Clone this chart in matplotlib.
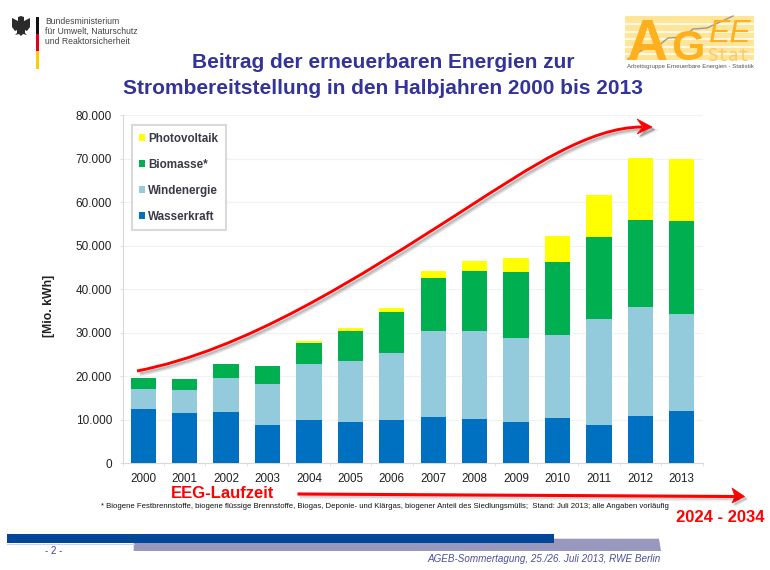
import numpy as np
import matplotlib
matplotlib.use("Agg")
import matplotlib.pyplot as plt
from matplotlib.patches import Polygon, PathPatch, Rectangle
from matplotlib.path import Path

plt.rcParams["font.family"] = ["Liberation Sans", "DejaVu Sans"]

# Values, Mio. kWh
years = [2000, 2001, 2002, 2003, 2004, 2005, 2006, 2007, 2008, 2009, 2010, 2011, 2012, 2013]
wasserkraft = [12400, 11550, 11800, 8700, 9900, 9600, 9950, 10550, 10200, 9500, 10400, 8800, 10900, 11900]
windenergie = [4700, 5250, 7860, 9400, 12800, 13800, 15350, 19900, 20300, 19300, 19000, 24400, 24900, 22500]
biomasse = [2400, 2600, 3040, 4200, 5000, 7000, 9350, 12050, 13700, 15100, 16800, 18800, 20000, 21200]
photovoltaik = [0, 0, 0, 100, 300, 700, 1050, 1560, 2200, 3300, 6000, 9700, 14300, 14200]
y_ticks = [0, 10000, 20000, 30000, 40000, 50000, 60000, 70000, 80000]

W, H = 770, 570
NAVY = "#333399"
RED = "#FF0000"

fig = plt.figure(figsize=(W / 100, H / 100), dpi=100, facecolor="white")
ax = fig.add_axes([122.5 / W, (H - 463.3) / H, 580 / W, 348.3 / H])

# Stacked bars
x = np.arange(len(years))
series = [
    ("Wasserkraft", wasserkraft, "#0070C0"),
    ("Windenergie", windenergie, "#93CBDD"),
    ("Biomasse*", biomasse, "#00B050"),
    ("Photovoltaik", photovoltaik, "#FFFF00"),
]
bottom = np.zeros(len(years))
for name, vals, col in series:
    ax.bar(x, vals, width=0.61, bottom=bottom, color=col, label=name, zorder=3)
    bottom += np.array(vals)

ax.set_xlim(-0.5, 13.5)
ax.set_ylim(0, 80000)
ax.set_yticks(y_ticks)
ax.set_yticklabels([f"{v:,}".replace(",", ".") for v in y_ticks], fontsize=8.5, color="#222222")
ax.set_xticks(x)
ax.set_xticklabels(years, fontsize=8.4, color="#222222")
ax.set_xticks(np.arange(-0.5, 14), minor=True)
ax.tick_params(axis="x", which="major", length=0, pad=7)
ax.tick_params(axis="x", which="minor", length=2.5, color="#e0e0e0")
ax.tick_params(axis="y", length=2, color="#e0e0e0", pad=5.5)
ax.grid(axis="y", color="#f2f2f2", linewidth=0.9, zorder=0)
ax.set_axisbelow(True)
for side in ["top", "right"]:
    ax.spines[side].set_visible(False)
for side in ["left", "bottom"]:
    ax.spines[side].set_color("#d9d9d9")
ax.set_ylabel("[Mio. kWh]", fontsize=8.8, fontweight="bold", color="#222222", labelpad=15, y=0.452)

handles, labels = ax.get_legend_handles_labels()
leg = ax.legend(
    handles[::-1], labels[::-1],
    loc="upper left", bbox_to_anchor=((131.7 - 122.5) / 580, (463.3 - 125) / 348.3),
    borderaxespad=0, fancybox=False, framealpha=1, edgecolor="#d9d9d9",
    prop={"size": 8.4, "weight": "bold"}, labelcolor="#3a3a48",
    handlelength=0.52, handleheight=0.52, handletextpad=0.22,
    labelspacing=1.2, borderpad=0.66,
)
leg.get_frame().set_linewidth(1.5)
leg.set_zorder(5)

# Everything around the chart, in pixel coordinates
ov = fig.add_axes([0, 0, 1, 1], facecolor="none", zorder=10)
ov.set_xlim(0, W)
ov.set_ylim(H, 0)
ov.axis("off")

# Titles
ov.text(383, 63, "Beitrag der erneuerbaren Energien zur", ha="center", va="center",
        fontsize=15, fontweight="bold", color=NAVY)
ov.text(383, 88, "Strombereitstellung in den Halbjahren 2000 bis 2013", ha="center", va="center",
        fontsize=15, fontweight="bold", color=NAVY)

# Ministry logo
ov.add_patch(Rectangle((36, 17), 3.3, 17, color="#111111", lw=0))
ov.add_patch(Rectangle((36, 34), 3.3, 17, color="#E2001A", lw=0))
ov.add_patch(Rectangle((36, 51), 3.3, 18, color="#FFCC00", lw=0))
eagle = [(21, 16), (24, 17), (24, 21), (30, 18), (30, 27), (27, 31), (25, 30), (25, 33), (27, 35),
         (23, 34), (21, 36), (19, 34), (15, 35), (17, 33), (17, 30), (15, 31), (12, 27), (12, 18), (18, 21), (18, 17)]
ov.add_patch(Polygon(eagle, closed=True, color="#2b2b2b", lw=0))
for yy, line in zip([21, 31, 41.5], ["Bundesministerium", "für Umwelt, Naturschutz", "und Reaktorsicherheit"]):
    ov.text(45, yy, line, fontsize=6.2, color="#444444", va="center", ha="left")

# AGEE-Stat logo
ORANGE = "#FFB01E"
ov.add_patch(Rectangle((625, 16), 129, 44, color="#FFE597", lw=0))
for yy in [24, 31.5, 39, 46.5, 54]:
    ov.plot([625, 754], [yy, yy], color="white", lw=1.1)
ov.text(627, 60, "A", fontsize=41, color=ORANGE, ha="left", va="baseline", fontweight="bold")
ov.text(671, 60, "G", fontsize=31, color=ORANGE, ha="left", va="baseline", fontweight="bold")
ov.text(708, 42, "EE", fontsize=23, color=ORANGE, style="italic", ha="left", va="baseline")
ov.text(708, 61, "Stat", fontsize=12.5, color="#FFC766", family="DejaVu Sans Mono", ha="left", va="baseline")
logo_line_x = [628, 642, 657, 668, 683, 693, 707, 720, 733]
logo_line_y = [59, 50, 47, 38, 37, 29, 28, 22, 16]
ov.plot(logo_line_x, logo_line_y, color="#999999", lw=1)
ov.text(690, 66.5, "Arbeitsgruppe Erneuerbare Energien - Statistik", fontsize=4.4, color="#555555",
        ha="center", va="center")

# Curved growth arrow with soft shadow
curve_v = [(137, 371), (245, 350), (355, 280), (467, 208), (530, 167.5), (590, 127), (642, 127)]
curve_c = [Path.MOVETO] + [Path.CURVE4] * 6
head = [(652, 127), (637, 119), (643, 127), (637, 134)]


def shift(points, d):
    return [(a + d, b + d) for a, b in points]


for d, lw, alpha in [(3, 3.6, 0.07), (3, 2.4, 0.12), (2.5, 1.4, 0.18)]:
    ov.add_patch(PathPatch(Path(shift(curve_v, d), curve_c), fc="none", ec="#333333", lw=lw, alpha=alpha))
    ov.add_patch(Polygon(shift(head, d), closed=True, fc="#333333", ec="#333333", lw=lw - 1, alpha=alpha))
ov.add_patch(PathPatch(Path(curve_v, curve_c), fc="none", ec=RED, lw=2.1))
ov.add_patch(Polygon(head, closed=True, fc=RED, ec=RED, lw=0.5))

# Lower straight arrow
line_x = [299, 735]
line_y = [494, 496.5]
head2 = [(744.5, 496.5), (732, 488), (735, 496.5), (732, 503)]
for d, lw, alpha in [(3, 3.0, 0.08), (2, 2.2, 0.14)]:
    ov.plot([a + d for a in line_x], [b + d for b in line_y], color="#333333", lw=lw, alpha=alpha)
    ov.add_patch(Polygon(shift(head2, d), closed=True, fc="#333333", ec="#333333", lw=1, alpha=alpha))
ov.plot(line_x, line_y, color=RED, lw=2.2)
ov.add_patch(Polygon(head2, closed=True, fc=RED, ec=RED, lw=0.5))

ov.text(170.5, 493.5, "EEG-Laufzeit", fontsize=12, fontweight="bold", color=RED, ha="left", va="center")
ov.text(676, 518, "2024 - 2034", fontsize=12, fontweight="bold", color=RED, ha="left", va="center")
ov.text(100.7, 507,
        "* Biogene Festbrennstoffe, biogene flüssige Brennstoffe, Biogas, Deponie- und Klärgas, "
        "biogener Anteil des Siedlungsmülls;  Stand: Juli 2013; alle Angaben vorläufig",
        fontsize=5.6, color="#111111", ha="left", va="center")

# Footer bars
ov.add_patch(Polygon([(133.7, 538.7), (659, 538.7), (661, 551), (133.7, 551)], closed=True, color="#9898BE", lw=0))
ov.add_patch(Rectangle((7, 534), 547, 9.3, color="#024797", lw=0))
ov.plot([7, 134], [543.8, 543.8], color="#c8d4e6", lw=0.8)
ov.text(53.5, 550.7, "- 2 -", fontsize=7, color="#3a3f9e", ha="center", va="center")
ov.text(661, 559.3, "AGEB-Sommertagung, 25./26. Juli 2013, RWE Berlin", fontsize=7.1, style="italic",
        color="#4a4f9e", ha="right", va="center")

fig.savefig("out.png", dpi=100)
